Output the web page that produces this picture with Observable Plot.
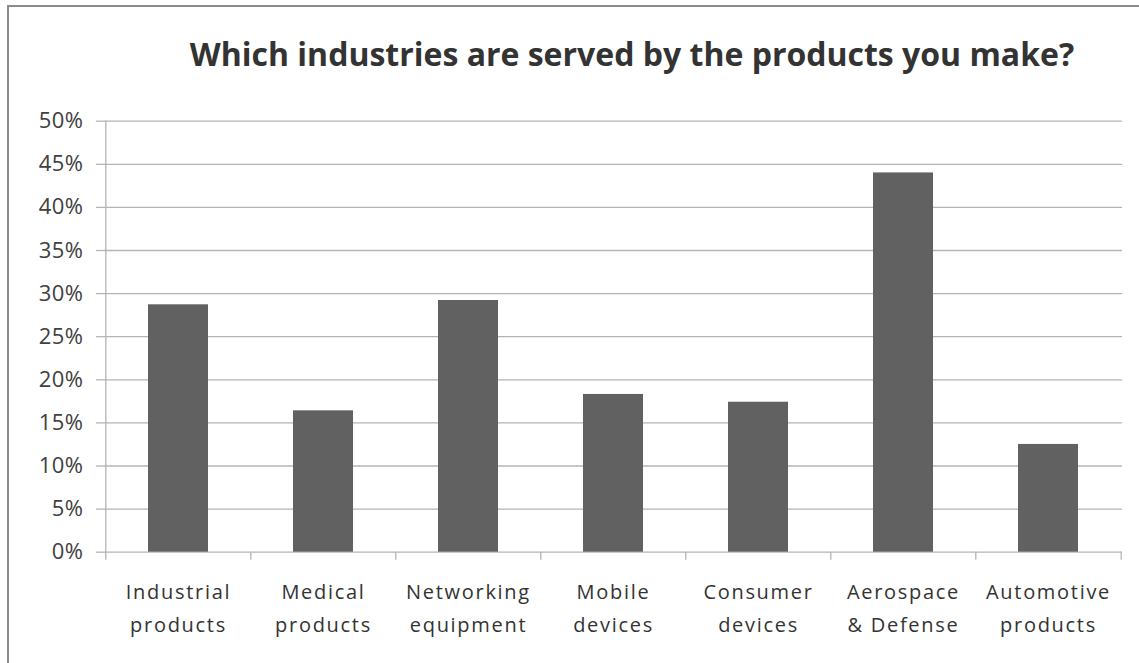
<!DOCTYPE html>
<html>
<head>
<meta charset="utf-8">
<script src="https://cdn.jsdelivr.net/npm/d3@7"></script>
<script src="https://cdn.jsdelivr.net/npm/@observablehq/plot@0.6"></script>
<style>
  html, body { margin: 0; padding: 0; background: #fff; }
  body { width: 1139px; height: 663px; overflow: hidden; position: relative; font-family: "Open Sans", sans-serif; }
  #frame { position: absolute; left: 7px; top: 5px; width: 1300px; height: 800px; z-index: 5; pointer-events: none;
           border-left: 2px solid #8c8c8c; border-top: 2px solid #8c8c8c; box-sizing: border-box; }
  #title { position: relative; height: 95px; }
  #title span { position: absolute; left: 0; width: 1264px; top: 34px; text-align: center;
                font-size: 32px; line-height: 40px; font-weight: 700; color: #333; white-space: nowrap; }
  #chart { position: relative; }
  #chart svg { display: block; }
  #chart [aria-label="x-axis tick label"] text { letter-spacing: 1.7px; }
  #chart [aria-label="y-axis tick label"] text { letter-spacing: 0.5px; }
</style>
</head>
<body>
<div id="frame"></div>
<div id="title"><span>Which industries are served by the products you make?</span></div>
<div id="chart"></div>
<script>
const categories = ["Industrial products", "Medical products", "Networking equipment", "Mobile devices", "Consumer devices", "Aerospace & Defense", "Automotive products"];
const tickLabels = ["Industrial\nproducts", "Medical\nproducts", "Networking\nequipment", "Mobile\ndevices", "Consumer\ndevices", "Aerospace\n& Defense", "Automotive\nproducts"];
const values = [0.287, 0.164, 0.292, 0.183, 0.174, 0.440, 0.125];
const yTicks = [0, 0.05, 0.10, 0.15, 0.20, 0.25, 0.30, 0.35, 0.40, 0.45, 0.50];

const data = categories.map((c, i) => ({category: c, value: values[i]}));
const labelOf = new Map(categories.map((c, i) => [c, tickLabels[i]]));

const W = 1139, H = 568;
const mL = 104, mR = 17, mT = 25.7, mB = 111.3;
const step = (W - mL - mR) / categories.length;
const grid = "#b4b4b4";

const chart = Plot.plot({
  width: W,
  height: H,
  marginLeft: mL,
  marginRight: mR,
  marginTop: mT,
  marginBottom: mB,
  style: {fontFamily: "'Open Sans', sans-serif", background: "transparent", color: "#404040", overflow: "visible"},
  x: {domain: categories, paddingInner: 0.587, paddingOuter: 0.2935, label: null},
  y: {domain: [0, 0.5], label: null},
  marks: [
    Plot.gridY(yTicks, {stroke: grid, strokeOpacity: 1, strokeWidth: 1.3}),
    Plot.axisY(yTicks, {tickFormat: d3.format(".0%"), tickSize: 8, tickPadding: 13, fontSize: 22, stroke: grid, strokeOpacity: 1, strokeWidth: 1.3, fill: "#404040", label: null}),
    Plot.barY(data, {x: "category", y: "value", fill: "#616161"}),
    // vertical axis line (extends below baseline like the first category tick)
    Plot.ruleX([categories[0]], {x: d => d, y1: 0.5, y2: 0, insetBottom: -8, dx: -step / 2, stroke: grid, strokeWidth: 1.3}),
    // category boundary ticks
    Plot.ruleX(categories.slice(1), {x: d => d, y1: 0, y2: 0, insetBottom: -8, dx: -step / 2, stroke: grid, strokeWidth: 1.3}),
    Plot.ruleX([categories[categories.length - 1]], {x: d => d, y1: 0, y2: 0, insetBottom: -8, dx: step / 2, stroke: grid, strokeWidth: 1.3}),
    Plot.axisX({tickSize: 0, tickPadding: 23, fontSize: 20, lineHeight: 1.65, tickFormat: d => labelOf.get(d), fill: "#333", label: null})
  ]
});
document.getElementById("chart").appendChild(chart);
</script>
</body>
</html>
